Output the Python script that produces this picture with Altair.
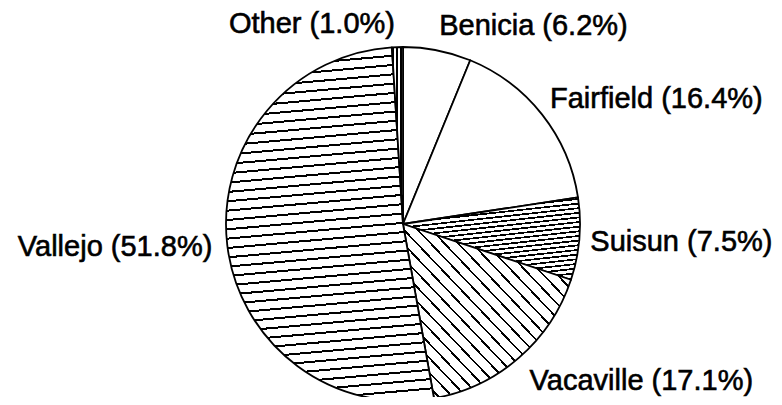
import math
import altair as alt
import pandas as pd

# ---- data ----
cities = ["Benicia", "Fairfield", "Suisun", "Vacaville", "Vallejo", "Other"]
shares = [6.2, 16.4, 7.5, 17.1, 51.8, 1.0]

df = pd.DataFrame({"city": cities, "share": shares})
df["end"] = df["share"].cumsum()
df["start"] = df["end"] - df["share"]
df["mid"] = (df["start"] + df["end"]) / 2
df["label"] = [f"{c} ({v:.1f}%)" for c, v in zip(cities, shares)]

# ---- geometry / style ----
CX, CY, R = 395, 216, 177
LABEL_R = 192
FONT = "Liberation Sans"
FS = 29

theta_scale = alt.Scale(domain=[0, 100], range=[0, 2 * math.pi])


def arc_bbox(p0, p1, r):
    a0, a1 = p0 * 3.6, p1 * 3.6
    pts = [(0.0, 0.0)]
    n = 400
    for i in range(n + 1):
        a = math.radians(a0 + (a1 - a0) * i / n)
        pts.append((r * math.sin(a), -r * math.cos(a)))
    xs = [p[0] for p in pts]
    ys = [p[1] for p in pts]
    return max(xs) - min(xs), max(ys) - min(ys)


def hatch(w, h, dirx, diry, spacing, lw, fg="black", bg="white"):
    nx, ny = -diry, dirx
    L = math.hypot(nx, ny)
    nx, ny = nx / L, ny / L
    gx, gy = nx * w, ny * h
    g2 = gx * gx + gy * gy
    k = (abs(gx) + abs(gy)) / g2
    dx, dy = gx * k, gy * k
    N = (abs(gx) + abs(gy)) / spacing
    period = 1.0 / N
    half = (lw / spacing) * period / 2
    stops = [{"offset": 0, "color": bg}]
    j = 0
    while True:
        c = (j + 0.5) * period
        a, b = c - half, c + half
        if a >= 1:
            break
        b = min(b, 1.0)
        stops += [{"offset": a, "color": bg}, {"offset": a, "color": fg},
                  {"offset": b, "color": fg}, {"offset": b, "color": bg}]
        j += 1
    stops.append({"offset": 1, "color": bg})
    return {"gradient": "linear",
            "x1": 0.5 - dx / 2, "y1": 0.5 - dy / 2,
            "x2": 0.5 + dx / 2, "y2": 0.5 + dy / 2,
            "stops": stops}


# pattern per slice: (direction x, direction y, spacing, line width) or None for white
patterns = {
    "Benicia": None,
    "Fairfield": None,
    "Suisun": (1, -0.11, 4.6, 1.7),
    "Vacaville": (1, 1.05, 10.0, 1.7),
    "Vallejo": (1, -0.09, 9.3, 2.0),
    "Other": (0, 1, 4.0, 1.5),
}

# label placement: align, dx, dy
label_style = {
    "Benicia": ("left", -1, -1),
    "Fairfield": ("left", -4, 3),
    "Suisun": ("left", -4, 11),
    "Vacaville": ("left", 1, 21),
    "Vallejo": ("right", 0, 9),
    "Other": ("right", -2, 1),
}

layers = []
for i, c in enumerate(cities):
    row = df.iloc[i]
    pat = patterns[c]
    if pat is None:
        fill = "white"
    else:
        w, h = arc_bbox(row["start"], row["end"], R)
        fill = hatch(w, h, *pat)
    arc = (
        alt.Chart(df)
        .transform_filter(alt.datum.city == c)
        .mark_arc(x=CX, y=CY, outerRadius=R, fill=fill, stroke="black",
                  strokeWidth=1.8, strokeJoin="round")
        .encode(theta=alt.Theta("start:Q", scale=theta_scale), theta2="end:Q")
    )
    layers.append(arc)

for i, c in enumerate(cities):
    align, dx, dy = label_style[c]
    txt = (
        alt.Chart(df)
        .transform_filter(alt.datum.city == c)
        .mark_text(x=CX, y=CY, radius=LABEL_R, align=align, baseline="alphabetic",
                   dx=dx, dy=dy, font=FONT, fontSize=FS, color="black",
                   stroke="black", strokeWidth=0.6)
        .encode(theta=alt.Theta("mid:Q", scale=theta_scale, stack=False),
                text="label:N")
    )
    layers.append(txt)

chart = (
    alt.layer(*layers)
    .properties(width=766, height=389, padding=0, autosize="none",
                background="white")
    .configure_view(stroke=None)
)

chart.save("out.html", embed_options={"renderer": "svg", "actions": False})
